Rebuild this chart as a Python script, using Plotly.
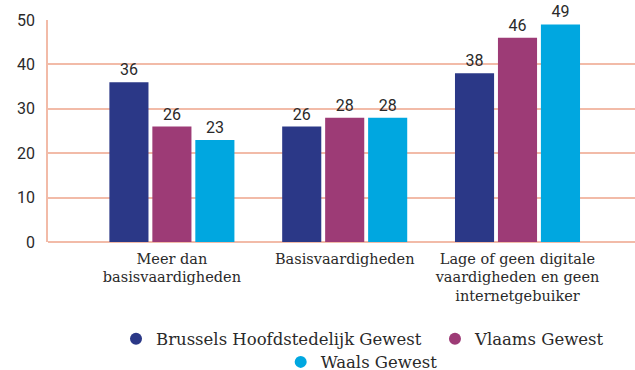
import plotly.graph_objects as go

categories = [
    "Meer dan<br>basisvaardigheden",
    "Basisvaardigheden",
    "Lage of geen digitale<br>vaardigheden en geen<br>internetgebuiker",
]
brussels = [36, 26, 38]
vlaams = [26, 28, 46]
waals = [23, 28, 49]

series = [
    ("Brussels Hoofdstedelijk Gewest", brussels, "#2B3887", "legend"),
    ("Vlaams Gewest", vlaams, "#9D3B76", "legend3"),
    ("Waals Gewest", waals, "#00A7E0", "legend2"),
]

grid_color = "#F2BBA8"
text_color = "#2A2A2A"
serif = "DejaVu Serif"
sans = "Roboto"

fig = go.Figure()
for name, values, color, legend_id in series:
    fig.add_trace(go.Bar(
        name=name,
        x=categories,
        y=values,
        marker=dict(color=color, line=dict(width=0)),
        text=[str(v) for v in values],
        textposition="outside",
        textfont=dict(family=sans, size=16, color=text_color),
        cliponaxis=False,
        showlegend=False,
    ))
    # round legend symbol for each region
    fig.add_trace(go.Scatter(
        name=name,
        x=[None],
        y=[None],
        mode="markers",
        marker=dict(color=color, size=15, symbol="circle"),
        legend=legend_id,
        showlegend=True,
    ))

legend_common = dict(
    orientation="h",
    xref="container",
    yref="container",
    xanchor="left",
    yanchor="top",
    font=dict(family=serif, size=16.5, color=text_color),
    itemsizing="constant",
    traceorder="normal",
    bgcolor="rgba(0,0,0,0)",
)

fig.update_layout(
    width=635,
    height=370,
    margin=dict(l=48, r=0, t=20, b=128, autoexpand=False),
    paper_bgcolor="white",
    plot_bgcolor="white",
    barmode="group",
    bargap=0.254,
    bargroupgap=0.09,
    showlegend=True,
    legend=dict(x=0.1827, y=0.1308, **legend_common),
    legend3=dict(x=0.685, y=0.1308, **legend_common),
    legend2=dict(x=0.442, y=0.0685, **legend_common),
    xaxis=dict(
        range=[-0.717, 2.68],
        showgrid=False,
        showline=False,
        zeroline=False,
        ticks="",
        ticklabelstandoff=6,
        tickfont=dict(family=serif, size=14.5, color=text_color),
    ),
    yaxis=dict(
        range=[0, 50],
        dtick=10,
        showgrid=True,
        gridcolor=grid_color,
        gridwidth=1.5,
        zeroline=True,
        zerolinecolor=grid_color,
        zerolinewidth=1.5,
        showline=True,
        linecolor=grid_color,
        linewidth=1.5,
        ticks="",
        ticklabelstandoff=8,
        tickfont=dict(family=sans, size=16, color=text_color),
    ),
)

fig.write_html("out.html")
